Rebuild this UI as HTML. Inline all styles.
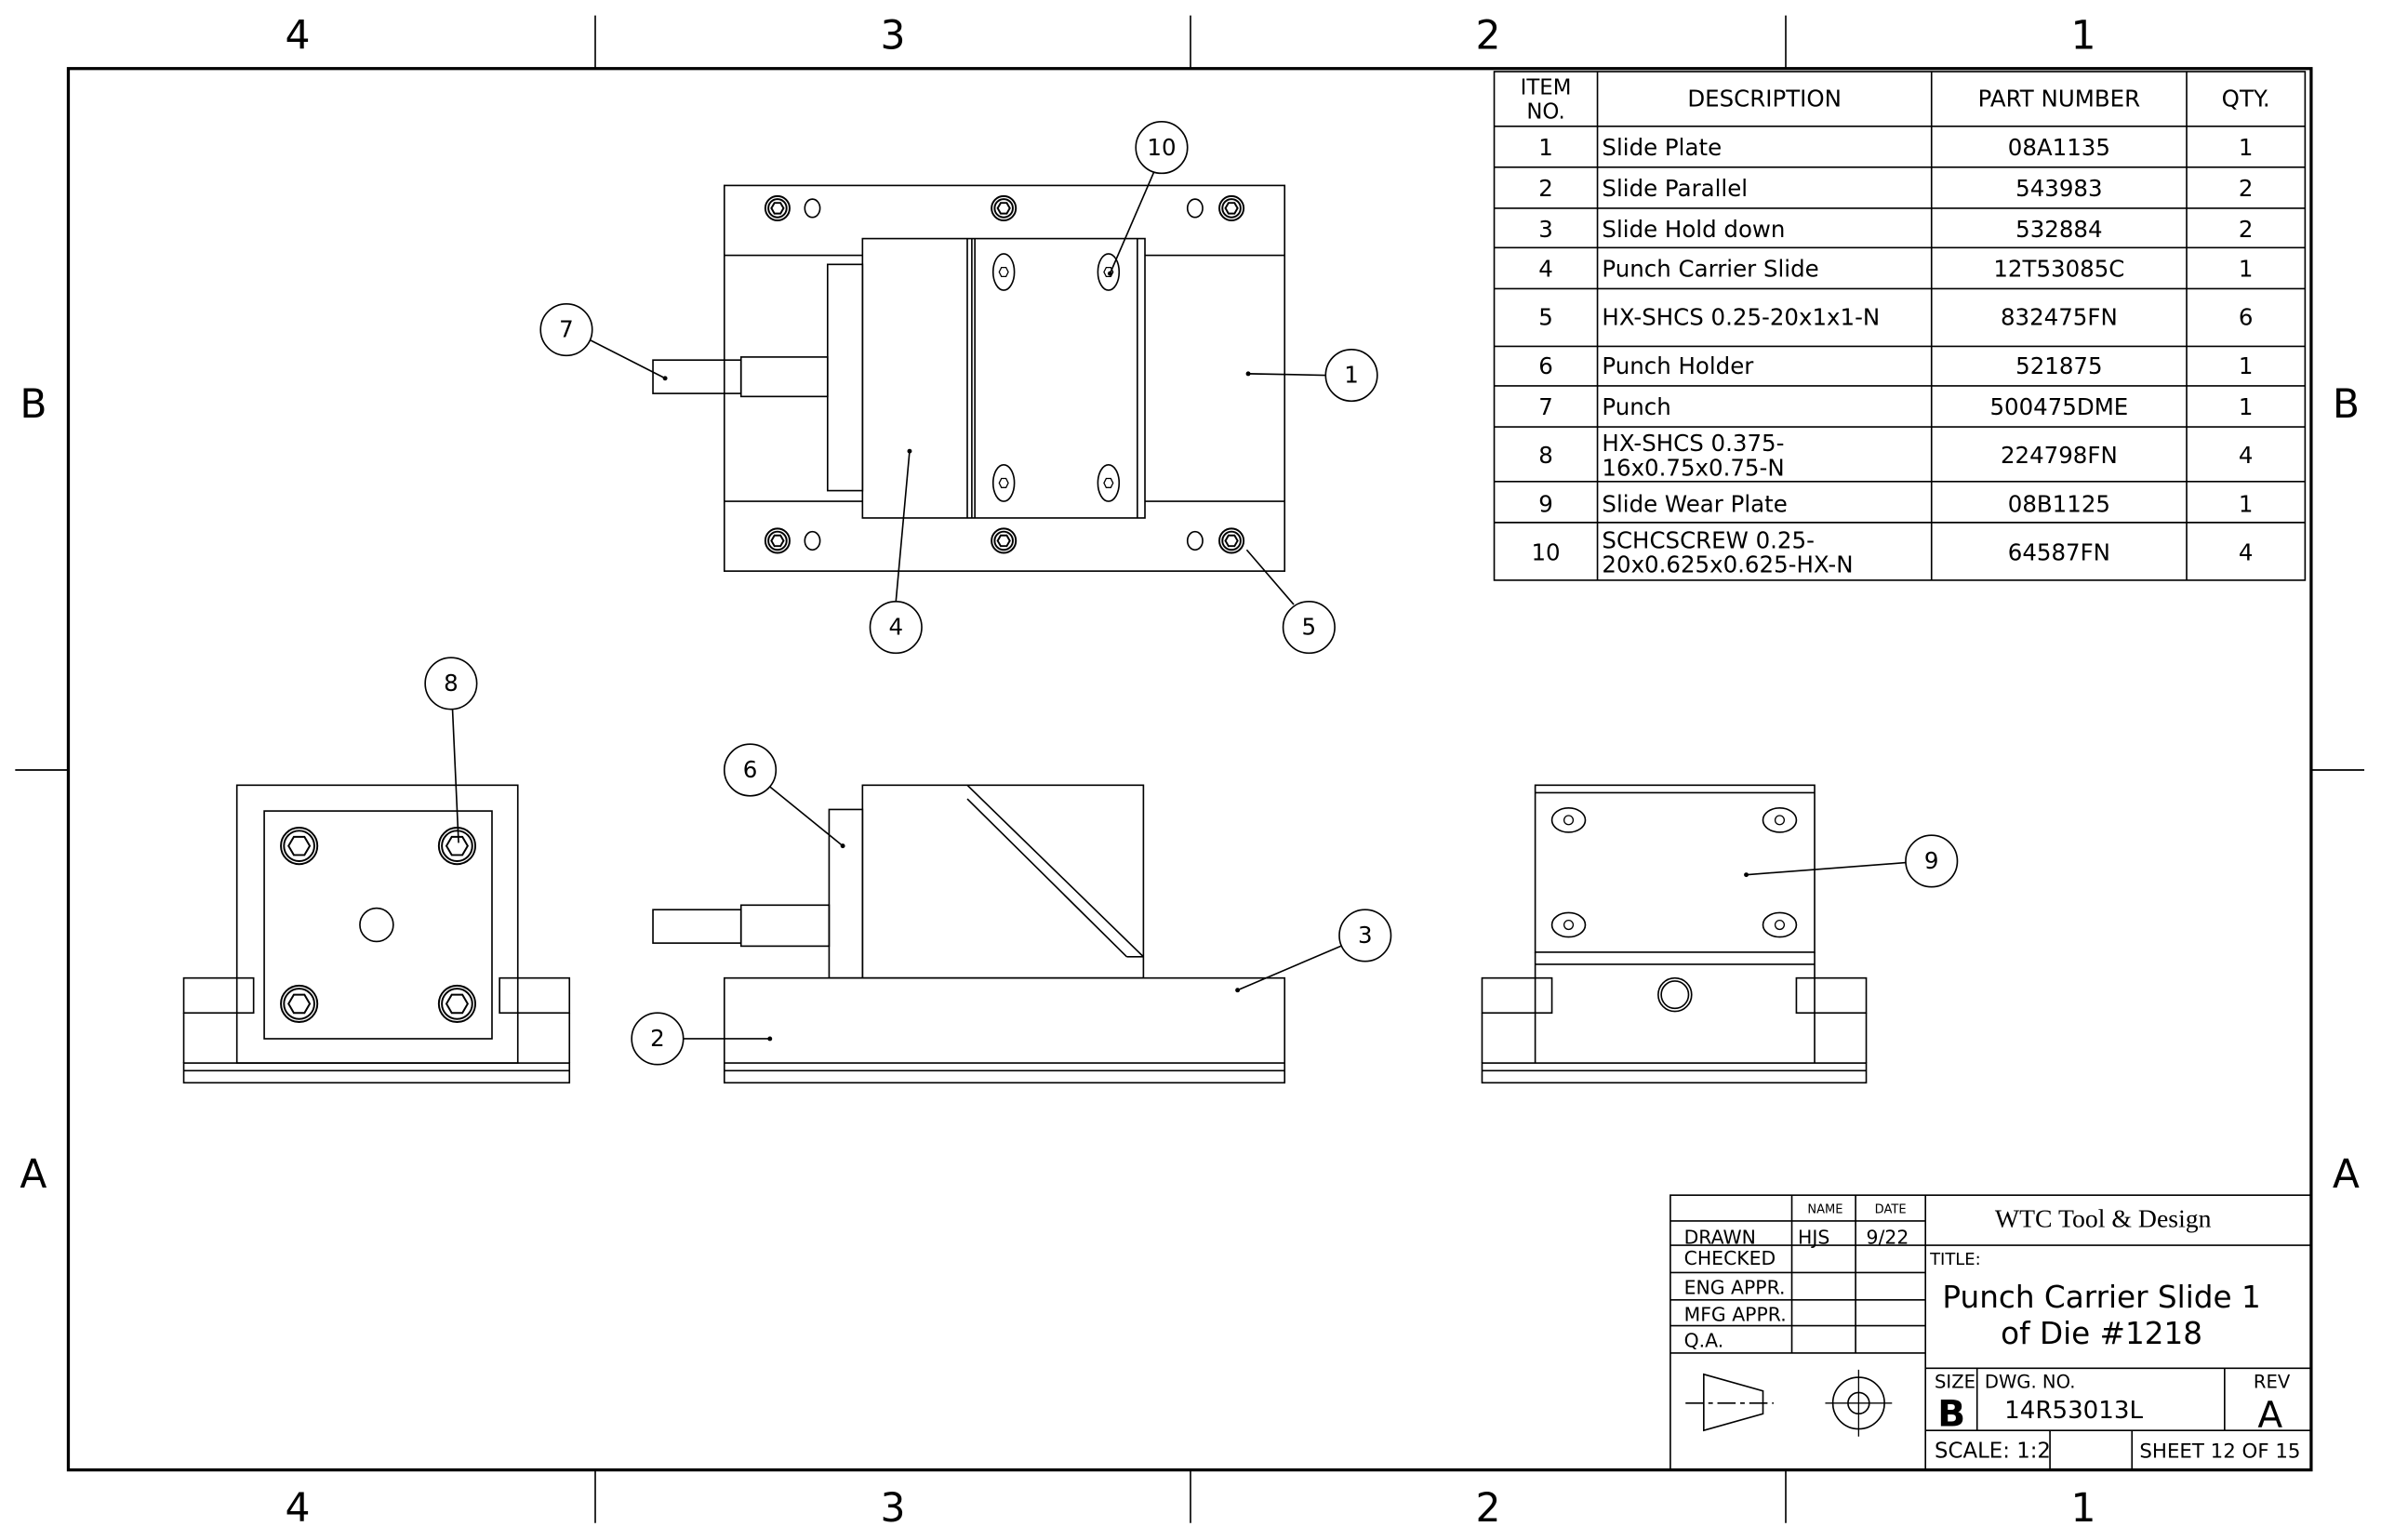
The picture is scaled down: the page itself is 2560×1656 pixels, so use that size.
<!DOCTYPE html>
<html><head><meta charset="utf-8"><style>
html,body{margin:0;padding:0;background:#fff}
svg{display:block}
text{font-family:"DejaVu Sans","Liberation Sans",sans-serif;fill:#000}
</style></head><body>
<svg width="2560" height="1656" viewBox="0 0 1568 1014" xmlns="http://www.w3.org/2000/svg">
<rect width="1568" height="1014" fill="#fff"/>
<g stroke="#000" fill="none" stroke-width="1">
<rect x="45" y="45" width="1477" height="923" stroke-width="2"/>
<path d="M392 10V45M784 10V45M1176 10V45M392 968V1003M784 968V1003M1176 968V1003M10 507H45M1522 507H1557"/>
</g>
<g font-size="26" text-anchor="middle">
<text x="196" y="32">4</text><text x="588" y="32">3</text><text x="980" y="32">2</text><text x="1372" y="32">1</text>
<text x="196" y="1002">4</text><text x="588" y="1002">3</text><text x="980" y="1002">2</text><text x="1372" y="1002">1</text>
<text x="22" y="275">B</text><text x="1545" y="275">B</text><text x="22" y="782">A</text><text x="1545" y="782">A</text>
</g>

<!-- BOM -->
<g stroke="#000" fill="none" stroke-width="1">
<rect x="984" y="47" width="534" height="335"/>
<path d="M1052 47V382M1272 47V382M1440 47V382"/>
<path d="M984 83H1518M984 110H1518M984 137H1518M984 163H1518M984 190H1518M984 228H1518M984 254H1518M984 281H1518M984 317H1518M984 344H1518"/>
</g>
<g font-size="15">
<text x="1018" y="62" text-anchor="middle" font-size="14">ITEM</text>
<text x="1018" y="78" text-anchor="middle" font-size="14">NO.</text>
<text x="1162" y="70" text-anchor="middle">DESCRIPTION</text>
<text x="1356" y="70" text-anchor="middle">PART NUMBER</text>
<text x="1479" y="70" text-anchor="middle">QTY.</text>
<g text-anchor="middle">
<text x="1018" y="102">1</text><text x="1018" y="129">2</text><text x="1018" y="156">3</text><text x="1018" y="182">4</text><text x="1018" y="214">5</text><text x="1018" y="246">6</text><text x="1018" y="273">7</text><text x="1018" y="305">8</text><text x="1018" y="337">9</text><text x="1018" y="369">10</text>
<text x="1356" y="102">08A1135</text><text x="1356" y="129">543983</text><text x="1356" y="156">532884</text><text x="1356" y="182">12T53085C</text><text x="1356" y="214">832475FN</text><text x="1356" y="246">521875</text><text x="1356" y="273">500475DME</text><text x="1356" y="305">224798FN</text><text x="1356" y="337">08B1125</text><text x="1356" y="369">64587FN</text>
<text x="1479" y="102">1</text><text x="1479" y="129">2</text><text x="1479" y="156">2</text><text x="1479" y="182">1</text><text x="1479" y="214">6</text><text x="1479" y="246">1</text><text x="1479" y="273">1</text><text x="1479" y="305">4</text><text x="1479" y="337">1</text><text x="1479" y="369">4</text>
</g>
<text x="1055" y="102">Slide Plate</text><text x="1055" y="129">Slide Parallel</text><text x="1055" y="156">Slide Hold down</text><text x="1055" y="182">Punch Carrier Slide</text><text x="1055" y="214">HX-SHCS 0.25-20x1x1-N</text><text x="1055" y="246">Punch Holder</text><text x="1055" y="273">Punch</text>
<text x="1055" y="297">HX-SHCS 0.375-</text><text x="1055" y="313">16x0.75x0.75-N</text>
<text x="1055" y="337">Slide Wear Plate</text>
<text x="1055" y="361">SCHCSCREW 0.25-</text><text x="1055" y="377">20x0.625x0.625-HX-N</text>
</g>

<!-- Top view -->
<g stroke="#000" fill="none" stroke-width="1">
<rect x="477" y="122" width="369" height="254"/>
<path d="M477 168H568M754 168H846M477 330H568M754 330H846"/>
<rect x="568" y="157" width="186" height="184"/>
<path d="M637 157V341M640 157V341M642 157V341M749 157V341"/>
<rect x="545" y="174" width="23" height="149"/>
<rect x="430" y="237" width="58" height="22"/>
<rect x="488" y="235" width="57" height="26"/>
<g stroke-width="1.2">
<circle cx="512" cy="137" r="8"/><circle cx="512" cy="137" r="6"/><path d="M508 137l2-3.5h4l2 3.5-2 3.5h-4z"/>
<circle cx="661" cy="137" r="8"/><circle cx="661" cy="137" r="6"/><path d="M657 137l2-3.5h4l2 3.5-2 3.5h-4z"/>
<circle cx="811" cy="137" r="8"/><circle cx="811" cy="137" r="6"/><path d="M807 137l2-3.5h4l2 3.5-2 3.5h-4z"/>
<circle cx="512" cy="356" r="8"/><circle cx="512" cy="356" r="6"/><path d="M508 356l2-3.5h4l2 3.5-2 3.5h-4z"/>
<circle cx="661" cy="356" r="8"/><circle cx="661" cy="356" r="6"/><path d="M657 356l2-3.5h4l2 3.5-2 3.5h-4z"/>
<circle cx="811" cy="356" r="8"/><circle cx="811" cy="356" r="6"/><path d="M807 356l2-3.5h4l2 3.5-2 3.5h-4z"/>
</g>
<ellipse cx="535" cy="137" rx="5" ry="6"/><ellipse cx="787" cy="137" rx="5" ry="6"/>
<ellipse cx="535" cy="356" rx="5" ry="6"/><ellipse cx="787" cy="356" rx="5" ry="6"/>
<ellipse cx="661" cy="179" rx="7" ry="12"/><ellipse cx="730" cy="179" rx="7" ry="12"/>
<ellipse cx="661" cy="318" rx="7" ry="12"/><ellipse cx="730" cy="318" rx="7" ry="12"/>
<path d="M658 179l1.5-3h3l1.5 3-1.5 3h-3zM727 179l1.5-3h3l1.5 3-1.5 3h-3zM658 318l1.5-3h3l1.5 3-1.5 3h-3zM727 318l1.5-3h3l1.5 3-1.5 3h-3z" stroke-width="0.8"/>
<circle cx="373" cy="217" r="17"/><path d="M389 224L438 249"/>
<circle cx="765" cy="97" r="17"/><path d="M760 113L731 180"/>
<circle cx="890" cy="247" r="17"/><path d="M873 247L822 246"/>
<circle cx="590" cy="413" r="17"/><path d="M590 396L599 297"/>
<circle cx="862" cy="413" r="17"/><path d="M852 398L821 362"/>
</g>
<g fill="#000"><circle cx="438" cy="249" r="1.5"/><circle cx="822" cy="246" r="1.5"/><circle cx="599" cy="297" r="1.5"/><circle cx="731" cy="180" r="1.5"/></g>
<g font-size="15" text-anchor="middle">
<text x="373" y="222">7</text><text x="765" y="102">10</text><text x="890" y="252">1</text><text x="590" y="418">4</text><text x="862" y="418">5</text>
</g>

<!-- Left end view -->
<g stroke="#000" fill="none" stroke-width="1">
<rect x="156" y="517" width="185" height="183"/>
<rect x="174" y="534" width="150" height="150"/>
<rect x="121" y="700" width="254" height="13"/>
<path d="M121 705H375"/>
<rect x="121" y="644" width="46" height="23"/><rect x="329" y="644" width="46" height="23"/>
<path d="M121 667V700M375 667V700"/>
<circle cx="248" cy="609" r="11"/>
<g stroke-width="1.2">
<circle cx="197" cy="557" r="12"/><circle cx="197" cy="557" r="10"/><path d="M190 557l3.5-6h7l3.5 6-3.5 6h-7z"/>
<circle cx="301" cy="557" r="12"/><circle cx="301" cy="557" r="10"/><path d="M294 557l3.5-6h7l3.5 6-3.5 6h-7z"/>
<circle cx="197" cy="661" r="12"/><circle cx="197" cy="661" r="10"/><path d="M190 661l3.5-6h7l3.5 6-3.5 6h-7z"/>
<circle cx="301" cy="661" r="12"/><circle cx="301" cy="661" r="10"/><path d="M294 661l3.5-6h7l3.5 6-3.5 6h-7z"/>
</g>
<circle cx="297" cy="450" r="17"/><path d="M298 467L302 555"/>
</g>
<text x="297" y="455" font-size="15" text-anchor="middle">8</text>

<!-- Side view -->
<g stroke="#000" fill="none" stroke-width="1">
<rect x="477" y="644" width="369" height="69"/>
<path d="M477 700H846M477 705H846"/>
<rect x="568" y="517" width="185" height="127"/>
<rect x="546" y="533" width="22" height="111"/>
<rect x="430" y="599" width="58" height="22"/>
<rect x="488" y="596" width="58" height="27"/>
<path d="M637 517L753 630M637 526L742 630M742 630H753"/>
<circle cx="494" cy="507" r="17"/><path d="M507 518L555 557"/>
<circle cx="899" cy="616" r="17"/><path d="M883 623L815 652"/>
<circle cx="433" cy="684" r="17"/><path d="M450 684L507 684"/>
</g>
<g fill="#000"><circle cx="555" cy="557" r="1.5"/><circle cx="815" cy="652" r="1.5"/><circle cx="507" cy="684" r="1.5"/></g>
<g font-size="15" text-anchor="middle"><text x="494" y="512">6</text><text x="899" y="621">3</text><text x="433" y="689">2</text></g>

<!-- Right end view -->
<g stroke="#000" fill="none" stroke-width="1">
<rect x="1011" y="517" width="184" height="110"/>
<path d="M1011 522H1195M1011 627V700M1195 627V700M1011 635H1195"/>
<rect x="976" y="700" width="253" height="13"/>
<path d="M976 705H1229M976 667V700M1229 667V700"/>
<rect x="976" y="644" width="46" height="23"/><rect x="1183" y="644" width="46" height="23"/>
<circle cx="1103" cy="655" r="11"/><circle cx="1103" cy="655" r="9"/>
<ellipse cx="1033" cy="540" rx="11" ry="8"/><ellipse cx="1172" cy="540" rx="11" ry="8"/>
<ellipse cx="1033" cy="609" rx="11" ry="8"/><ellipse cx="1172" cy="609" rx="11" ry="8"/>
<g stroke-width="0.8"><circle cx="1033" cy="540" r="3"/><circle cx="1172" cy="540" r="3"/><circle cx="1033" cy="609" r="3"/><circle cx="1172" cy="609" r="3"/></g>
<circle cx="1272" cy="567" r="17"/><path d="M1255 568L1150 576"/>
</g>
<circle cx="1150" cy="576" r="1.5" fill="#000"/>
<text x="1272" y="572" font-size="15" text-anchor="middle">9</text>

<!-- Title block -->
<g stroke="#000" fill="none" stroke-width="1">
<path d="M1100 968V787H1522M1268 787V968"/>
<path d="M1100 804H1268M1100 820H1268M1100 838H1268M1100 856H1268M1100 873H1268M1100 891H1268"/>
<path d="M1180 787V891M1222 787V891"/>
<path d="M1268 820H1522M1268 901H1522M1268 942H1522M1302 901V942M1465 901V942M1350 942V968M1404 942V968"/>
<path d="M1122 905L1161 916V931L1122 942Z"/>
<path d="M1110 924H1168" stroke-dasharray="12 3 3 3"/>
<circle cx="1224" cy="924" r="17"/><circle cx="1224" cy="924" r="7"/>
<path d="M1202 924H1246M1224 902V946" stroke-width="0.8"/>
</g>
<g font-size="12.5">
<text x="1202" y="799" font-size="8" text-anchor="middle">NAME</text>
<text x="1245" y="799" font-size="8" text-anchor="middle">DATE</text>
<text x="1109" y="819">DRAWN</text><text x="1184" y="819">HJS</text><text x="1229" y="819">9/22</text>
<text x="1109" y="833">CHECKED</text>
<text x="1109" y="852">ENG APPR.</text>
<text x="1109" y="870">MFG APPR.</text>
<text x="1109" y="887">Q.A.</text>
<text x="1271" y="833" font-size="11">TITLE:</text>
<text x="1274" y="914" font-size="12">SIZE</text>
<text x="1307" y="914" font-size="12">DWG.  NO.</text>
<text x="1484" y="914" font-size="12">REV</text>
</g>
<text x="1385" y="808" font-size="17" text-anchor="middle" style="font-family:'Liberation Serif',serif">WTC Tool &amp; Design</text>
<text x="1384" y="861" font-size="20" text-anchor="middle">Punch Carrier Slide 1</text>
<text x="1384" y="885" font-size="20" text-anchor="middle">of Die #1218</text>
<text x="1276" y="939" font-size="24" font-weight="bold">B</text>
<text x="1320" y="934" font-size="16">14R53013L</text>
<text x="1495" y="940" font-size="24" text-anchor="middle">A</text>
<text x="1274" y="960" font-size="14">SCALE: 1:2</text>
<text x="1409" y="960" font-size="13" textLength="106" lengthAdjust="spacingAndGlyphs">SHEET 12 OF 15</text>
</svg>
</body></html>
